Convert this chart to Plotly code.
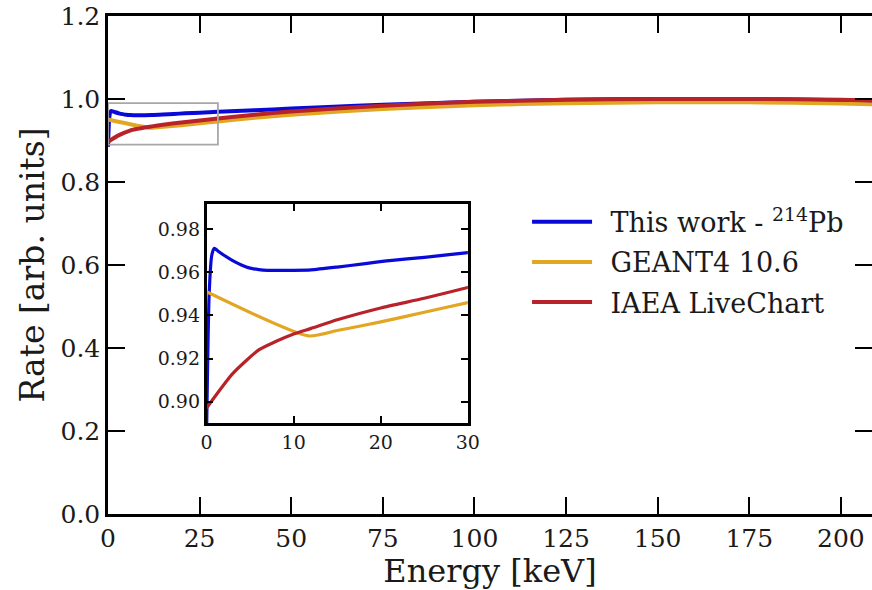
import plotly.graph_objects as go

# ---- data ----
energy_this = [0.0, 0.3, 0.6, 0.9, 1.3, 2, 3, 4, 5, 6, 7, 8, 10, 12, 15, 18, 21, 25, 30,
               40, 50, 60, 75, 100, 125, 150, 175, 200, 210]
rate_this = [0.885, 0.950, 0.968, 0.9712, 0.970, 0.968, 0.9655, 0.9635, 0.962, 0.9613,
             0.961, 0.961, 0.961, 0.9612, 0.9625, 0.964, 0.9655, 0.967, 0.9692,
             0.973, 0.977, 0.981, 0.986, 0.9935, 0.998, 1.000, 1.000, 0.997, 0.995]

energy_geant = [0.0, 11.7, 15, 20, 25, 30, 40, 50, 60, 75, 100, 125, 150, 175, 200, 210]
rate_geant = [0.951, 0.9305, 0.933, 0.937, 0.9415, 0.946, 0.955, 0.962, 0.968, 0.976,
              0.985, 0.990, 0.992, 0.992, 0.989, 0.987]

energy_iaea = [0.0, 3, 6, 8, 10, 12, 15, 20, 25, 30, 40, 50, 60, 75, 100, 125, 150, 175, 200, 210]
rate_iaea = [0.897, 0.913, 0.924, 0.928, 0.9314, 0.934, 0.938, 0.9435, 0.948, 0.953,
             0.962, 0.970, 0.976, 0.984, 0.9935, 0.998, 1.000, 1.000, 0.998, 0.996]

labels = ["This work - <sup>214</sup>Pb", "GEANT4 10.6", "IAEA LiveChart"]
colors = ["#0a0ad8", "#e2a623", "#b8232a"]

x_ticks_main = [0, 25, 50, 75, 100, 125, 150, 175, 200]
y_ticks_main = [0.0, 0.2, 0.4, 0.6, 0.8, 1.0, 1.2]
x_ticks_inset = [0, 10, 20, 30]
y_ticks_inset = [0.90, 0.92, 0.94, 0.96, 0.98]

zoom_box_x = [0, 30]
zoom_box_y = [0.89, 0.99]

series = [(energy_this, rate_this), (energy_geant, rate_geant), (energy_iaea, rate_iaea)]

FONT = "DejaVu Serif"
TXT = "#1a1a1a"
fig = go.Figure()

for i, ((xs, ys), name, c) in enumerate(zip(series, labels, colors)):
    fig.add_trace(go.Scatter(x=xs, y=ys, mode="lines", name="\u2002" + name,
                             legendgroup=f"g{i}",
                             line=dict(color=c, width=4, shape="spline", smoothing=0.6),
                             xaxis="x", yaxis="y"))
for i, ((xs, ys), name, c) in enumerate(zip(series, labels, colors)):
    fig.add_trace(go.Scatter(x=xs, y=ys, mode="lines", name=name, showlegend=False,
                             legendgroup=f"g{i}",
                             line=dict(color=c, width=3.2, shape="spline", smoothing=0.6),
                             xaxis="x2", yaxis="y2"))

fig.add_shape(type="rect", xref="x", yref="y",
              x0=zoom_box_x[0], x1=zoom_box_x[1], y0=zoom_box_y[0], y1=zoom_box_y[1],
              line=dict(color="#a8a8a8", width=1.8), layer="above")

axis_common = dict(showline=True, linecolor="black", mirror="ticks", ticks="inside",
                   tickcolor="black", showgrid=False, zeroline=False, automargin=False)

fig.update_layout(
    width=872, height=590,
    margin=dict(l=108, r=0, t=16, b=76),
    paper_bgcolor="white", plot_bgcolor="white",
    font=dict(family=FONT, color=TXT),
    xaxis=dict(range=[0, 208.5], tickvals=x_ticks_main, linewidth=2.5, tickwidth=2,
               ticklen=17, tickfont=dict(size=25, color=TXT),
               title=dict(text="Energy [keV]", font=dict(size=32, color=TXT), standoff=4),
               **axis_common),
    yaxis=dict(range=[0, 1.2], tickvals=y_ticks_main, tickformat=".1f", linewidth=2.5,
               tickwidth=2, ticklen=17, tickfont=dict(size=25, color=TXT),
               title=dict(text="Rate [arb. units]", font=dict(size=33, color=TXT), standoff=6),
               **axis_common),
    xaxis2=dict(domain=[0.129, 0.471], anchor="y2", range=[0, 30], tickvals=x_ticks_inset,
                linewidth=2.5, tickwidth=2, ticklen=7, tickfont=dict(size=19, color=TXT),
                **axis_common),
    yaxis2=dict(domain=[0.1826, 0.622], anchor="x2", range=[0.89, 0.9917],
                tickvals=y_ticks_inset, tickformat=".2f", linewidth=2.5, tickwidth=2,
                ticklen=7, tickfont=dict(size=19, color=TXT), **axis_common),
    legend=dict(x=0.5485, y=0.635, xanchor="left", yanchor="top", bgcolor="rgba(0,0,0,0)",
                font=dict(size=27, family=FONT, color=TXT), tracegroupgap=2,
                itemwidth=60),
    showlegend=True,
)

fig.write_html("out.html",
               config={"displayModeBar": False},
               post_script="document.body.style.margin='0px';"
                           "document.body.style.overflow='hidden';")
